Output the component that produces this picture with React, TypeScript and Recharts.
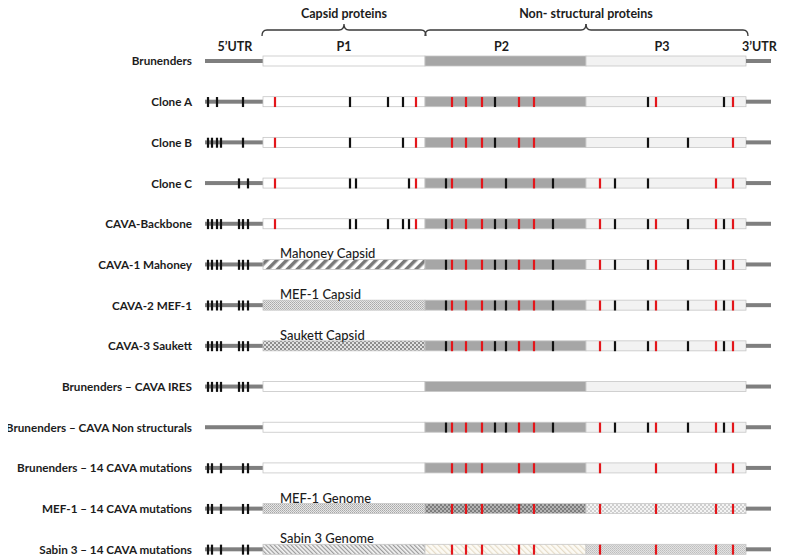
import React from "react";
import { ComposedChart, XAxis, YAxis, Bar, Scatter } from "recharts";

// genome rows, top to bottom
const rows = [
  "Brunenders",
  "Clone A",
  "Clone B",
  "Clone C",
  "CAVA-Backbone",
  "CAVA-1 Mahoney",
  "CAVA-2 MEF-1",
  "CAVA-3 Saukett",
  "Brunenders – CAVA IRES",
  "Brunenders – CAVA Non structurals",
  "Brunenders – 14 CAVA mutations",
  "MEF-1 – 14 CAVA mutations",
  "Sabin 3 – 14 CAVA mutations",
];

// schematic segment lengths (diagram units)
const segmentKeys = ["utr5", "p1", "p2", "p3", "utr3"];
const segmentLabels = ["5’UTR", "P1", "P2", "P3", "3’UTR"];
const segmentLengths = [58, 162, 161, 160, 25];

// mutation positions, same units
const cavaUtrBlack = [3, 7, 12, 16, 34, 38, 43];
const cavaP1Red = [70, 211];
const cavaP1Black = [145, 151, 183, 198, 204];
const cavaNsRed = [247, 261, 277, 314, 329, 395, 451, 511, 528];
const cavaNsBlack = [241, 290, 301, 348, 410, 443, 483, 519];
const cloneARed = [70, 211, 247, 261, 277, 314, 329, 451, 528];
const cloneABlack = [3, 12, 38, 145, 183, 198, 290, 443, 519];
const cloneBRed = [70, 211, 247, 261, 277, 314, 329, 528];
const cloneBBlack = [3, 7, 12, 16, 38, 145, 198, 290, 443, 483];
const cloneCRed = [70, 211, 247, 277, 329, 395, 511, 528];
const cloneCBlack = [34, 43, 145, 151, 204, 241, 301, 348, 410, 443];
const fourteenUtrBlack = [3, 7, 16, 38, 43];

const redByRow = [
  [], cloneARed, cloneBRed, cloneCRed, [...cavaP1Red, ...cavaNsRed],
  cavaNsRed, cavaNsRed, cavaNsRed, [], cavaNsRed,
  cavaNsRed, cavaNsRed, cavaNsRed,
];
const blackByRow = [
  [], cloneABlack, cloneBBlack, cloneCBlack, [...cavaUtrBlack, ...cavaP1Black, ...cavaNsBlack],
  [...cavaUtrBlack, ...cavaNsBlack], [...cavaUtrBlack, ...cavaNsBlack], [...cavaUtrBlack, ...cavaNsBlack],
  cavaUtrBlack, cavaNsBlack,
  fourteenUtrBlack, fourteenUtrBlack, fourteenUtrBlack,
];

const captions: Record<string, string> = {
  "CAVA-1 Mahoney": "Mahoney Capsid",
  "CAVA-2 MEF-1": "MEF-1 Capsid",
  "CAVA-3 Saukett": "Saukett Capsid",
  "MEF-1 – 14 CAVA mutations": "MEF-1 Genome",
  "Sabin 3 – 14 CAVA mutations": "Sabin 3 Genome",
};

const RED = "#e3161b";
const BLACK = "#111";
const total = segmentLengths.reduce((a, b) => a + b, 0);

const chartData = rows.map((name, row) => {
  const d: any = { row, name };
  segmentKeys.forEach((k, i) => (d[k] = segmentLengths[i]));
  return d;
});

const marks = rows.flatMap((name, row) => [
  ...blackByRow[row].map((pos) => ({ row, pos, color: BLACK })),
  ...redByRow[row].map((pos) => ({ row, pos, color: RED })),
]);

const fills: Record<string, string[]> = {
  "CAVA-1 Mahoney": ["url(#mahoney)", "#a6a6a6", "#f2f2f2"],
  "CAVA-2 MEF-1": ["url(#mefFine)", "#a6a6a6", "#f2f2f2"],
  "CAVA-3 Saukett": ["url(#saukett)", "#a6a6a6", "#f2f2f2"],
  "MEF-1 – 14 CAVA mutations": ["url(#mefFine)", "url(#mefDark)", "url(#mefLight)"],
  "Sabin 3 – 14 CAVA mutations": ["url(#sabinP1)", "url(#sabinP2)", "url(#sabinP3)"],
};
const defaultFills = ["#ffffff", "#a6a6a6", "#f2f2f2"];

const textColor = "#1c1c1c";

const brace = (x0: number, x1: number, top: number, half: "left" | "right" | "both") => {
  const yEnd = top - 20;
  const yLine = top - 26;
  const yPeak = top - 32;
  const left = (a: number, b: number) =>
    `M${a},${yEnd} Q${a},${yLine} ${a + 5},${yLine} L${b - 5},${yLine} Q${b},${yLine} ${b},${yPeak}`;
  const right = (a: number, b: number) =>
    `M${a},${yPeak} Q${a},${yLine} ${a + 5},${yLine} L${b - 5},${yLine} Q${b},${yLine} ${b},${yEnd}`;
  let d = "";
  if (half === "left") d = left(x0, x1);
  else if (half === "right") d = right(x0, x1);
  else d = left(x0, (x0 + x1) / 2) + " " + right((x0 + x1) / 2, x1);
  return <path d={d} fill="none" stroke="#3a3a3a" strokeWidth={1.3} />;
};

const headerText = (x: number, y: number, text: string) => (
  <text x={x} y={y} textAnchor="middle" fontSize={12.5} fontWeight={700} fill={textColor}>
    {text}
  </text>
);

const makeShape = (segIndex: number) => (props: any) => {
  const { x, y, width, height, index, payload } = props;
  const name = payload?.name ?? rows[index];
  const first = index === 0;
  const cx = x + width / 2;
  if (segIndex === 0 || segIndex === 4) {
    return (
      <g>
        <rect x={x} y={y + height / 2 - 2} width={width} height={4} fill="#7f7f7f" />
        {first && headerText(cx + 1, y - 5, segmentLabels[segIndex])}
      </g>
    );
  }
  const fill = (fills[name] ?? defaultFills)[segIndex - 1];
  const caption = segIndex === 1 ? captions[name] : undefined;
  return (
    <g>
      <rect x={x} y={y} width={width} height={height} fill={fill} stroke="#c6c6c6" strokeWidth={0.8} />
      {caption && (
        <text x={x + 17} y={y - 1} fontSize={13} fontWeight={500} fill={textColor}>
          {caption}
        </text>
      )}
      {first && headerText(segIndex === 1 ? cx : cx - 4, y - 5, segmentLabels[segIndex])}
      {first && segIndex === 1 && brace(x - 1, x + width + 1, y, "both")}
      {first && segIndex === 1 && headerText(cx, y - 38, "Capsid proteins")}
      {first && segIndex === 2 && brace(x, x + width, y, "left")}
      {first && segIndex === 2 && headerText(x + width, y - 38, "Non- structural proteins")}
      {first && segIndex === 3 && brace(x, x + width + 2, y, "right")}
    </g>
  );
};

const RowLabel = (props: any) => {
  const { x, y, payload } = props;
  return (
    <text x={x} y={y} dy="0.355em" textAnchor="end" fontSize={11.7} fontWeight={700} fill={textColor}>
      {rows[payload.value]}
    </text>
  );
};

const MarkShape = (props: any) => {
  const { cx, cy, payload } = props;
  return <rect x={cx - 1.1} y={cy - 5} width={2.2} height={10} fill={payload.color} />;
};

const Patterns = () => (
  <svg width={0} height={0} style={{ position: "absolute" }}>
    <defs>
      <pattern id="mahoney" width={7} height={7} patternUnits="userSpaceOnUse" patternTransform="rotate(45)">
        <rect width={7} height={7} fill="#fff" />
        <rect width={3.5} height={7} fill="#7a7a7a" />
      </pattern>
      <pattern id="mefFine" width={2} height={2} patternUnits="userSpaceOnUse">
        <rect width={2} height={2} fill="#e6e6e6" />
        <rect width={1} height={1} fill="#a8a8a8" />
        <rect x={1} y={1} width={1} height={1} fill="#b8b8b8" />
      </pattern>
      <pattern id="saukett" width={4} height={4} patternUnits="userSpaceOnUse">
        <rect width={4} height={4} fill="#e2e2e2" />
        <rect width={2} height={2} fill="#8e8e8e" />
        <rect x={2} y={2} width={2} height={2} fill="#8e8e8e" />
      </pattern>
      <pattern id="mefDark" width={4} height={4} patternUnits="userSpaceOnUse">
        <rect width={4} height={4} fill="#b4b4b4" />
        <rect width={2} height={2} fill="#7c7c7c" />
        <rect x={2} y={2} width={2} height={2} fill="#7c7c7c" />
      </pattern>
      <pattern id="mefLight" width={4} height={4} patternUnits="userSpaceOnUse">
        <rect width={4} height={4} fill="#f4f4f4" />
        <rect width={2} height={2} fill="#cfcfcf" />
        <rect x={2} y={2} width={2} height={2} fill="#cfcfcf" />
      </pattern>
      <pattern id="sabinP1" width={3} height={3} patternUnits="userSpaceOnUse" patternTransform="rotate(-45)">
        <rect width={3} height={3} fill="#f4f4f4" />
        <rect width={1.2} height={3} fill="#9a9a9a" />
      </pattern>
      <pattern id="sabinP2" width={4} height={4} patternUnits="userSpaceOnUse" patternTransform="rotate(-45)">
        <rect width={4} height={4} fill="#fcfaf4" />
        <rect width={1.2} height={4} fill="#e6dcc8" />
      </pattern>
      <pattern id="sabinP3" width={2} height={2} patternUnits="userSpaceOnUse">
        <rect width={2} height={2} fill="#e2e2e2" />
        <rect width={1} height={1} fill="#bdbdbd" />
        <rect x={1} y={1} width={1} height={1} fill="#c8c8c8" />
      </pattern>
    </defs>
  </svg>
);

export default function App() {
  return (
    <div
      style={{
        width: 788,
        height: 559,
        margin: "-8px 0 0 -8px",
        overflow: "hidden",
        fontFamily: "Lato, 'Open Sans', sans-serif",
      }}
    >
      <Patterns />
      <ComposedChart
        width={788}
        height={570}
        layout="vertical"
        data={chartData}
        margin={{ top: 41, right: 17, bottom: 0, left: 0 }}
      >
        <XAxis type="number" domain={[0, total]} hide />
        <YAxis
          type="number"
          dataKey="row"
          domain={[-0.5, rows.length - 0.5]}
          ticks={rows.map((_, i) => i)}
          interval={0}
          width={205}
          axisLine={false}
          tickLine={false}
          tickMargin={7}
          tick={<RowLabel />}
        />
        {segmentKeys.map((k, i) => (
          <Bar key={k} dataKey={k} stackId="genome" barSize={10} isAnimationActive={false} shape={makeShape(i)} />
        ))}
        <Scatter data={marks} dataKey="pos" shape={<MarkShape />} isAnimationActive={false} />
      </ComposedChart>
    </div>
  );
}
